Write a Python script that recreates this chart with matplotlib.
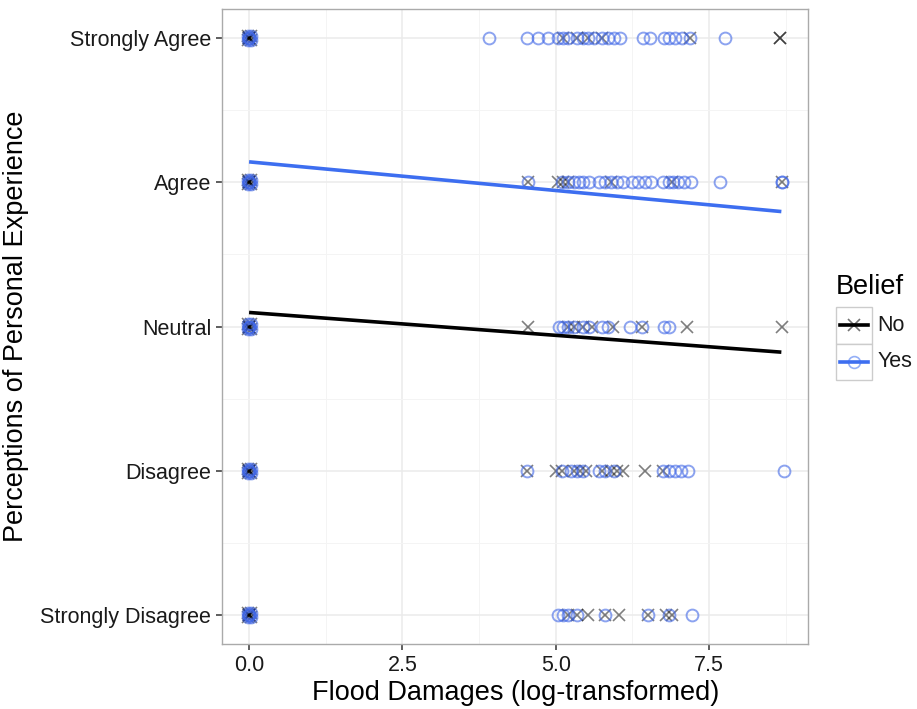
import matplotlib.pyplot as plt
from matplotlib.lines import Line2D
from matplotlib.patches import Rectangle

plt.rcParams["font.family"] = ["Liberation Sans", "DejaVu Sans"]

# ---- data ----------------------------------------------------------------- #
levels = ["Strongly Disagree", "Disagree", "Neutral", "Agree", "Strongly Agree"]
level_values = [1, 2, 3, 4, 5]

# flood damages (log) per response level, for each belief group
yes_x = {
    5: [3.91, 4.54, 4.71, 4.88, 5.04, 5.12, 5.2, 5.34, 5.45, 5.53, 5.62, 5.75,
        5.86, 5.95, 6.05, 6.43, 6.53, 6.76, 6.85, 6.95, 7.06, 7.19, 7.76],
    4: [4.55, 5.1, 5.2, 5.3, 5.38, 5.45, 5.55, 5.7, 5.8, 5.9, 6.0, 6.1, 6.24,
        6.35, 6.45, 6.55, 6.75, 6.85, 6.92, 7.0, 7.1, 7.2, 7.68, 8.69, 8.69],
    3: [5.05, 5.12, 5.2, 5.3, 5.45, 5.55, 5.75, 5.86, 6.21, 6.4, 6.76, 6.85],
    2: [4.54, 5.1, 5.25, 5.35, 5.45, 5.7, 5.8, 5.95, 6.75, 6.85, 6.95, 7.05,
        7.15, 8.73],
    1: [5.04, 5.12, 5.2, 5.34, 5.8, 6.51, 6.85, 7.22],
}
no_x = {
    5: [5.12, 5.34, 5.53, 5.75, 7.19, 8.66, 8.66],
    4: [4.55, 5.04, 5.12, 5.2, 5.9, 6.9, 8.69],
    3: [4.55, 5.2, 5.3, 5.45, 5.6, 5.94, 6.4, 7.14, 8.69],
    2: [4.54, 5.0, 5.1, 5.3, 5.4, 5.5, 5.75, 5.9, 6.0, 6.1, 6.45, 6.75],
    1: [5.2, 5.34, 5.53, 5.8, 6.04, 6.51, 6.8, 6.9],
}
# many respondents with zero damages (slightly jittered in the original)
zero_dx = [-0.025, 0.025, -0.025, 0.025, 0.0, 0.0, 0.0]
zero_dy = [-0.015, -0.015, 0.015, 0.015, 0.0, 0.0, 0.0]

# fitted linear trends: intercept, slope
fit_yes = (4.142, -0.0397)
fit_no = (3.098, -0.0317)
x_max = 8.68

BLUE = "#3f66e6"
LINE_BLUE = "#3d6ef0"

fig = plt.figure(figsize=(9.17, 7.09), dpi=100)
ax = fig.add_axes([0.2426, 0.0917, 0.6385, 0.8953])

for lv in level_values:
    xs_y = yes_x[lv] + list(zero_dx)
    ys_y = [lv] * len(yes_x[lv]) + [lv + dy for dy in zero_dy]
    xs_n = no_x[lv] + list(zero_dx)
    ys_n = [lv] * len(no_x[lv]) + [lv + dy for dy in zero_dy]
    ax.plot(xs_n, ys_n, ls="none", marker="x", ms=8, mew=1.2, color="black",
            alpha=0.5, zorder=3)
    ax.plot(xs_y, ys_y, ls="none", marker="o", ms=8.5, mew=1.4, mfc="none",
            mec=BLUE, alpha=0.6, zorder=3)

for (a, b), col in [(fit_no, "black"), (fit_yes, LINE_BLUE)]:
    ax.plot([0, x_max], [a, a + b * x_max], color=col, lw=2.6, zorder=4,
            solid_capstyle="butt")

ax.set_xlim(-0.05 * x_max, 1.05 * x_max)
ax.set_ylim(0.8, 5.2)
ax.set_xticks([0, 2.5, 5.0, 7.5])
ax.set_xticklabels(["0.0", "2.5", "5.0", "7.5"])
ax.set_xticks([1.25, 3.75, 6.25, 8.75], minor=True)
ax.set_yticks(level_values)
ax.set_yticklabels(levels)
ax.set_yticks([1.5, 2.5, 3.5, 4.5], minor=True)
ax.grid(which="major", color="#ebebeb", lw=1.1, zorder=0)
ax.grid(which="minor", color="#f4f4f4", lw=0.7, zorder=0)
ax.set_axisbelow(True)
ax.tick_params(which="major", length=4, width=1.1, color="#333333",
               labelsize=15.5, labelcolor="#1a1a1a", pad=4)
ax.tick_params(which="minor", length=0)
for s in ax.spines.values():
    s.set_color("#aaaaaa")
    s.set_linewidth(1.0)
ax.set_xlabel("Flood Damages (log-transformed)", fontsize=19.5, labelpad=3)
ax.set_ylabel("Perceptions of Personal Experience", fontsize=19.5, labelpad=8)

# ---- legend (ggplot style, drawn by hand) -------------------------------- #
lg = fig.add_axes([836 / 917, 1 - 380 / 709, 36 / 917, 73 / 709])
lg.set_xlim(0, 1)
lg.set_ylim(0, 2)
lg.axis("off")
for i, (lab, col, mk) in enumerate([("No", "black", "x"),
                                    ("Yes", LINE_BLUE, "o")]):
    y0 = 1 - i
    lg.add_patch(Rectangle((0, y0), 1, 1, fc="white", ec="#cccccc", lw=1.0,
                           clip_on=False))
    lg.add_line(Line2D([0.1, 0.9], [y0 + 0.5] * 2, color=col, lw=2.6))
    lg.plot([0.5], [y0 + 0.5], marker=mk, ms=8.5, mew=1.2,
            mfc="none", mec=col if mk == "o" else "black", alpha=0.55)
    lg.text(1.15, y0 + 0.5, lab, fontsize=15.5, va="center", ha="left",
            color="#1a1a1a")
fig.text(836 / 917, 1 - 287 / 709, "Belief", fontsize=19.5, va="center",
         ha="left")

fig.savefig("out.png", dpi=100, facecolor="white")
